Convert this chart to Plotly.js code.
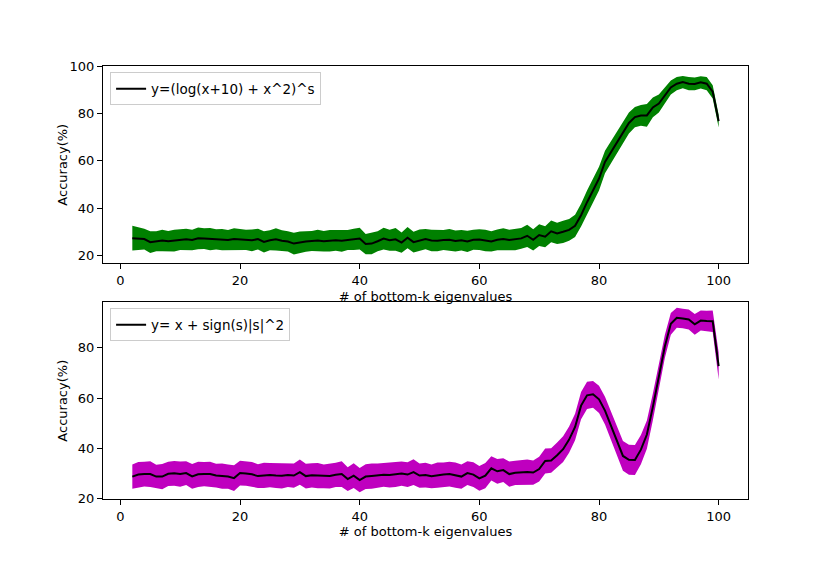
<!DOCTYPE html>
<html>
<head>
<meta charset="utf-8">
<script src="https://cdn.plot.ly/plotly-3.0.1.min.js"></script>
<style>
  html, body { margin: 0; padding: 0; background: #fff; }
  #chart { width: 830px; height: 563px; }
</style>
</head>
<body>
<div id="chart"></div>
<script>
/* ── Accuracy vs. number of bottom-k eigenvalues ── */

// k = 2 .. 100
const K_START = 2, K_END = 100;

const LABEL_TOP = 'y=(log(x+10) + x^2)^s';
const LABEL_BOT = 'y= x + sign(s)|s|^2';

// top panel: mean accuracy and spread
const MEAN_TOP = [
    27.3, 27.2, 26.9, 25.6, 26.0, 26.3, 26.0, 26.2, 26.7,
    26.8, 26.5, 27.2, 27.1, 26.9, 26.8, 26.7, 26.5, 26.9, 26.8,
    26.6, 26.4, 26.9, 25.7, 26.4, 26.8, 26.2, 25.9, 25.0, 25.6,
    25.9, 26.1, 26.3, 26.0, 26.2, 26.4, 26.2, 26.5, 26.8, 27.1,
    24.8, 25.0, 26.0, 27.1, 26.4, 26.8, 25.4, 27.5, 25.6, 26.4,
    26.9, 26.3, 26.2, 26.5, 26.6, 26.1, 26.4, 25.9, 26.6, 26.7,
    26.3, 25.9, 26.6, 26.9, 26.5, 26.7, 27.2, 28.3, 26.6, 28.6,
    27.9, 30.2, 29.3, 30.0, 30.8, 32.5, 37.0, 42.5, 47.5, 52.5,
    59.5, 63.5, 67.5, 71.8, 76.0, 78.5, 79.2, 79.2, 82.6, 84.2,
    87.5, 91.0, 92.6, 93.3, 92.6, 92.5, 93.2, 92.6, 89.2, 76.8,
];
const STD_TOP = [
    5.2, 4.8, 4.4, 4.6, 4.2, 4.5, 4.3, 4.6, 4.4,
    4.5, 4.3, 4.6, 4.4, 4.7, 4.3, 4.5, 4.2, 4.6, 4.4,
    4.3, 4.6, 4.4, 4.5, 4.2, 4.7, 4.4, 4.3, 4.6, 4.5,
    4.4, 4.2, 4.6, 4.3, 4.5, 4.4, 4.7, 4.2, 4.5, 4.6,
    4.3, 4.5, 4.2, 4.6, 4.4, 4.8, 4.3, 4.5, 4.4, 4.6,
    4.3, 4.5, 4.4, 4.2, 4.6, 4.4, 4.3, 4.5, 4.2, 4.4,
    4.5, 4.3, 4.4, 4.6, 4.3, 4.5, 4.4, 4.7, 4.5, 4.6,
    4.4, 4.6, 4.5, 4.7, 4.6, 4.7, 4.8, 5.0, 5.0, 5.0,
    4.8, 4.7, 4.6, 4.5, 4.4, 4.3, 4.4, 4.8, 4.2, 3.8,
    3.4, 3.0, 2.8, 2.6, 2.8, 2.7, 2.6, 2.8, 2.8, 2.7,
];

// bottom panel
const MEAN_BOT = [
    28.8, 29.6, 29.8, 29.8, 28.8, 28.8, 29.9, 30.1, 29.8,
    30.2, 28.9, 29.7, 29.8, 29.8, 29.2, 29.0, 28.8, 28.2, 30.2,
    30.0, 29.7, 29.0, 29.3, 29.4, 29.2, 29.1, 29.4, 29.2, 30.6,
    29.0, 29.3, 29.2, 28.9, 29.0, 29.5, 29.8, 27.8, 29.2, 27.4,
    28.8, 29.0, 29.2, 29.5, 29.4, 29.7, 30.0, 29.6, 30.6, 29.2,
    29.4, 28.9, 29.4, 29.6, 29.8, 29.4, 28.8, 30.2, 29.6, 28.1,
    29.2, 32.1, 30.9, 31.4, 29.8, 30.3, 30.5, 30.6, 30.4, 31.8,
    35.0, 35.2, 37.3, 39.7, 43.5, 48.5, 57.0, 61.1, 61.5, 59.5,
    55.0, 49.0, 43.0, 37.0, 35.5, 35.4, 39.5, 45.5, 56.5, 68.5,
    80.5, 89.5, 91.9, 91.6, 91.2, 89.3, 90.8, 90.6, 90.5, 72.7,
];
const STD_BOT = [
    4.8, 5.0, 4.9, 5.1, 4.7, 5.0, 4.8, 4.9, 5.0,
    4.7, 4.9, 5.0, 4.8, 4.9, 4.7, 5.0, 4.8, 5.1, 4.9,
    4.8, 4.9, 4.7, 5.0, 4.8, 4.9, 5.0, 4.7, 4.8, 5.0,
    4.9, 4.8, 5.0, 4.7, 4.9, 4.8, 5.1, 4.7, 4.9, 4.8,
    4.9, 5.0, 4.8, 4.7, 4.9, 5.0, 4.8, 4.9, 5.1, 4.8,
    4.9, 4.7, 5.0, 4.8, 4.9, 5.0, 4.8, 4.7, 4.9, 4.9,
    5.0, 4.8, 4.9, 4.7, 5.0, 4.8, 4.9, 5.0, 4.8, 4.9,
    5.0, 4.9, 5.0, 5.1, 5.2, 5.3, 5.4, 5.4, 5.3, 5.4,
    5.5, 5.6, 5.8, 5.9, 6.0, 6.0, 5.8, 5.6, 5.3, 5.0,
    4.6, 4.3, 4.0, 3.9, 4.0, 4.1, 4.0, 4.1, 4.3, 5.3,
];

const X_TICKS = [0, 20, 40, 60, 80, 100];
const Y_TICKS_TOP = [20, 40, 60, 80, 100];
const Y_TICKS_BOT = [20, 40, 60, 80];

const K = [];
for (let k = K_START; k <= K_END; k++) K.push(k);

const FONT = 'DejaVu Sans, sans-serif';

function bandTraces(mean, std, fill, label, xa, ya, legend) {
    const lo = mean.map((m, i) => m - std[i]);
    const hi = mean.map((m, i) => m + std[i]);
    return [
        { x: K, y: lo, mode: 'lines', line: { width: 0, color: fill }, showlegend: false,
          hoverinfo: 'skip', xaxis: xa, yaxis: ya },
        { x: K, y: hi, mode: 'lines', line: { width: 0, color: fill }, fill: 'tonexty',
          fillcolor: fill, showlegend: false, hoverinfo: 'skip', xaxis: xa, yaxis: ya },
        { x: K, y: mean, mode: 'lines', line: { width: 2, color: '#000' }, name: label,
          xaxis: xa, yaxis: ya, legend },
    ];
}

const traces = [
    ...bandTraces(MEAN_TOP, STD_TOP, '#008000', LABEL_TOP, 'x', 'y', 'legend'),
    ...bandTraces(MEAN_BOT, STD_BOT, '#bf00bf', LABEL_BOT, 'x2', 'y2', 'legend2'),
];

const axisBase = {
    showline: true, mirror: true, linecolor: '#000', linewidth: 1,
    ticks: 'outside', ticklen: 5, tickwidth: 1, tickcolor: '#000',
    showgrid: false, zeroline: false,
    tickfont: { family: FONT, size: 13, color: '#000' },
};
const xTitle = { text: '# of bottom-k eigenvalues', font: { family: FONT, size: 13, color: '#000' }, standoff: 4 };
const yTitle = { text: 'Accuracy(%)', font: { family: FONT, size: 13, color: '#000' } };

const legendBase = {
    xref: 'paper', yref: 'paper', xanchor: 'left', yanchor: 'top',
    bgcolor: 'rgba(255,255,255,0.8)', bordercolor: '#cccccc', borderwidth: 1,
    font: { family: FONT, size: 13.5, color: '#000' },
};

const layout = {
    width: 830, height: 563,
    margin: { l: 103, r: 82, t: 66, b: 64 },
    paper_bgcolor: '#fff', plot_bgcolor: '#fff',
    showlegend: true,
    xaxis: { ...axisBase, range: [-2.9, 104.9], tickvals: X_TICKS, domain: [0, 1], anchor: 'y', title: xTitle },
    yaxis: { ...axisBase, range: [16.6, 100.1], tickvals: Y_TICKS_TOP, domain: [0.544, 1], anchor: 'x', title: yTitle },
    xaxis2: { ...axisBase, range: [-2.9, 104.9], tickvals: X_TICKS, domain: [0, 1], anchor: 'y2', title: xTitle },
    yaxis2: { ...axisBase, range: [19.9, 98.0], tickvals: Y_TICKS_BOT, domain: [0, 0.454], anchor: 'x2', title: yTitle },
    legend: { ...legendBase, x: 0.011, y: 0.985 },
    legend2: { ...legendBase, x: 0.011, y: 0.44 },
};

Plotly.newPlot('chart', traces, layout, { staticPlot: true });
</script>
</body>
</html>
